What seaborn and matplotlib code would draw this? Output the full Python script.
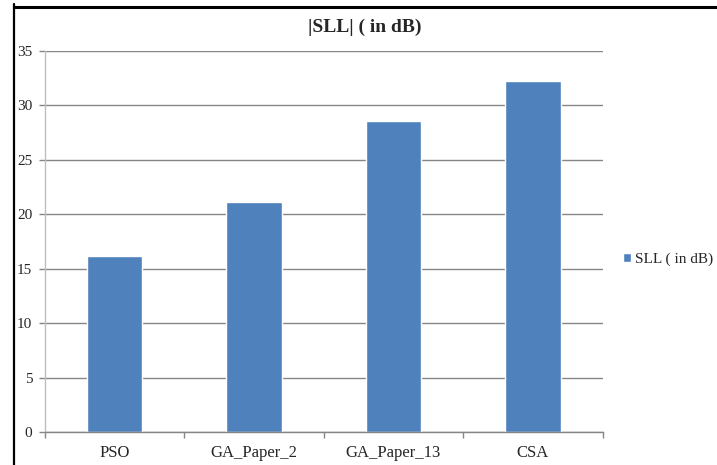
import matplotlib
matplotlib.use("Agg")
import matplotlib.pyplot as plt
from matplotlib.lines import Line2D
import seaborn as sns
import pandas as pd

categories = ["PSO", "GA_Paper_2", "GA_Paper_13", "CSA"]
sll_values = [16.2, 21.1, 28.55, 32.2]
series_name = "SLL ( in dB)"
title_text = "|SLL| ( in dB)"
y_ticks = [0, 5, 10, 15, 20, 25, 30, 35]

sns.set_style("white")
plt.rcParams["font.family"] = ["Liberation Serif", "DejaVu Serif"]

df = pd.DataFrame({"method": categories, "value": sll_values})

fig = plt.figure(figsize=(7.17, 4.65), dpi=100)
ax = fig.add_axes([44.7 / 717, 1 - 432.3 / 465, (602.7 - 44.7) / 717, (432.3 - 50.7) / 465])

sns.barplot(data=df, x="method", y="value", color="#4F81BD", width=0.4,
            saturation=1, ax=ax, label=series_name)

ax.set_xlim(-0.5, len(categories) - 0.5)
ax.set_ylim(0, 35)
ax.set_yticks(y_ticks)
ax.set_yticklabels([str(t) for t in y_ticks], fontsize=11)
ax.yaxis.grid(True, color="#868686", linewidth=1.0)
ax.set_axisbelow(True)
ax.set_xlabel("")
ax.set_ylabel("")

# category boundary ticks
ax.set_xticks([i - 0.5 for i in range(len(categories) + 1)], minor=False)
ax.set_xticklabels([""] * (len(categories) + 1))
ax.set_xticks(range(len(categories)), minor=True)
ax.set_xticklabels(categories, minor=True, fontsize=12)
ax.tick_params(axis="x", which="major", bottom=True, length=4, width=1,
               color="#868686", direction="out")
ax.tick_params(axis="x", which="minor", bottom=True, length=0, pad=9)
ax.tick_params(axis="y", left=True, length=4, width=1, color="#868686",
               direction="out", pad=5)

for s in ["top", "right"]:
    ax.spines[s].set_visible(False)
ax.spines["left"].set_color("#BFBFBF")
ax.spines["left"].set_linewidth(1.0)
ax.spines["bottom"].set_color("#868686")
ax.spines["bottom"].set_linewidth(1.0)

fig.text(365 / 717, 1 - 27 / 465, title_text, ha="center", va="center",
         fontsize=14, fontweight="bold")

ax.legend(loc="center left", bbox_to_anchor=(623 / 717, 1 - 259 / 465),
          bbox_transform=fig.transFigure, frameon=False, fontsize=11,
          handlelength=0.5, handleheight=0.5, handletextpad=0.3,
          borderpad=0, borderaxespad=0)

# outer frame lines (top and left)
fig.add_artist(Line2D([14 / 717, 1], [1 - 7 / 465, 1 - 7 / 465], color="black", linewidth=2.2,
                      transform=fig.transFigure))
fig.add_artist(Line2D([14 / 717, 14 / 717], [0, 1 - 4 / 465], color="black", linewidth=1.6,
                      transform=fig.transFigure))

fig.savefig("out.png", dpi=100)
